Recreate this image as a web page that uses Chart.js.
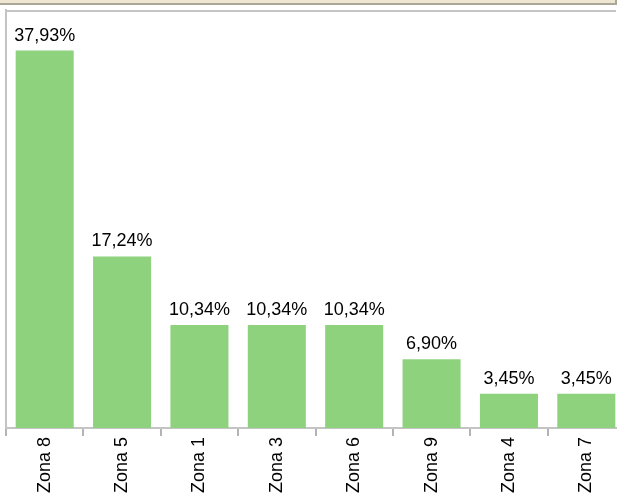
<!DOCTYPE html>
<html>
<head>
<meta charset="utf-8">
<script src="https://cdn.jsdelivr.net/npm/chart.js@4.4.0/dist/chart.umd.min.js"></script>
<style>
  html, body { margin: 0; padding: 0; overflow: hidden; background: #fff; }
  body { width: 617px; height: 494px; position: relative; }
  #topStrip { position: absolute; left: 0; top: 0; width: 615px; height: 3px; background: #efe6d2; border-bottom: 2px solid #aaa698; border-right: 2px solid #aaa698; }
  #topLine { position: absolute; left: 5px; top: 10px; width: 611px; height: 2px; background: #c4c4c4; }
  #wrap { position: absolute; left: 0; top: 0; width: 625px; height: 494px; }
</style>
</head>
<body>
<div id="topStrip"></div>
<div id="topLine"></div>
<div id="wrap"><canvas id="myChart"></canvas></div>
<script>
const zones = ["Zona 8", "Zona 5", "Zona 1", "Zona 3", "Zona 6", "Zona 9", "Zona 4", "Zona 7"];
const shares = [37.93, 17.24, 10.34, 10.34, 10.34, 6.90, 3.45, 3.45];

const formatShare = (value) => `${value.toFixed(2).replace(".", ",")}%`;

// value labels above the bars
const barLabels = {
  id: "barLabels",
  afterDatasetsDraw(chart) {
    const ctx = chart.ctx;
    const meta = chart.getDatasetMeta(0);
    ctx.save();
    ctx.font = "18px 'Liberation Sans', Arial, sans-serif";
    ctx.fillStyle = "#000";
    ctx.textAlign = "center";
    ctx.textBaseline = "alphabetic";
    meta.data.forEach((bar, i) => {
      ctx.fillText(formatShare(shares[i]), bar.x, bar.y - 10);
    });
    ctx.restore();
  },
};

const ctx = document.getElementById("myChart");
const Config = {
  type: "bar",
  data: {
    labels: zones,
    datasets: [
      {
        data: shares,
        backgroundColor: "#8ed27e",
        borderWidth: 0,
        categoryPercentage: 0.75,
        barPercentage: 1,
      },
    ],
  },
  options: {
    responsive: false,
    animation: false,
    maintainAspectRatio: false,
    layout: { padding: { left: 6, top: 10, right: 0, bottom: 0 } },
    plugins: { legend: { display: false }, tooltip: { enabled: false } },
    scales: {
      x: {
        offset: true,
        grid: {
          display: true,
          drawOnChartArea: false,
          drawTicks: true,
          tickLength: 8,
          color: "#b4b4b4",
          lineWidth: 2,
          offset: true,
        },
        border: { display: true, color: "#c4c4c4", width: 2 },
        ticks: {
          color: "#000",
          font: { family: "'Liberation Sans', Arial, sans-serif", size: 18 },
          minRotation: 90,
          maxRotation: 90,
          padding: 1,
        },
        afterFit(scale) {
          scale.height = 66;
        },
      },
      y: {
        min: 0,
        max: 42,
        grid: { display: false, drawTicks: false },
        border: { display: true, color: "#c4c4c4", width: 2 },
        ticks: { display: false },
        afterFit(scale) {
          scale.width = 0;
        },
      },
    },
  },
  plugins: [barLabels],
};
ctx.width = 625;
ctx.height = 494;
const myChart = new Chart(ctx, Config);
</script>
</body>
</html>
